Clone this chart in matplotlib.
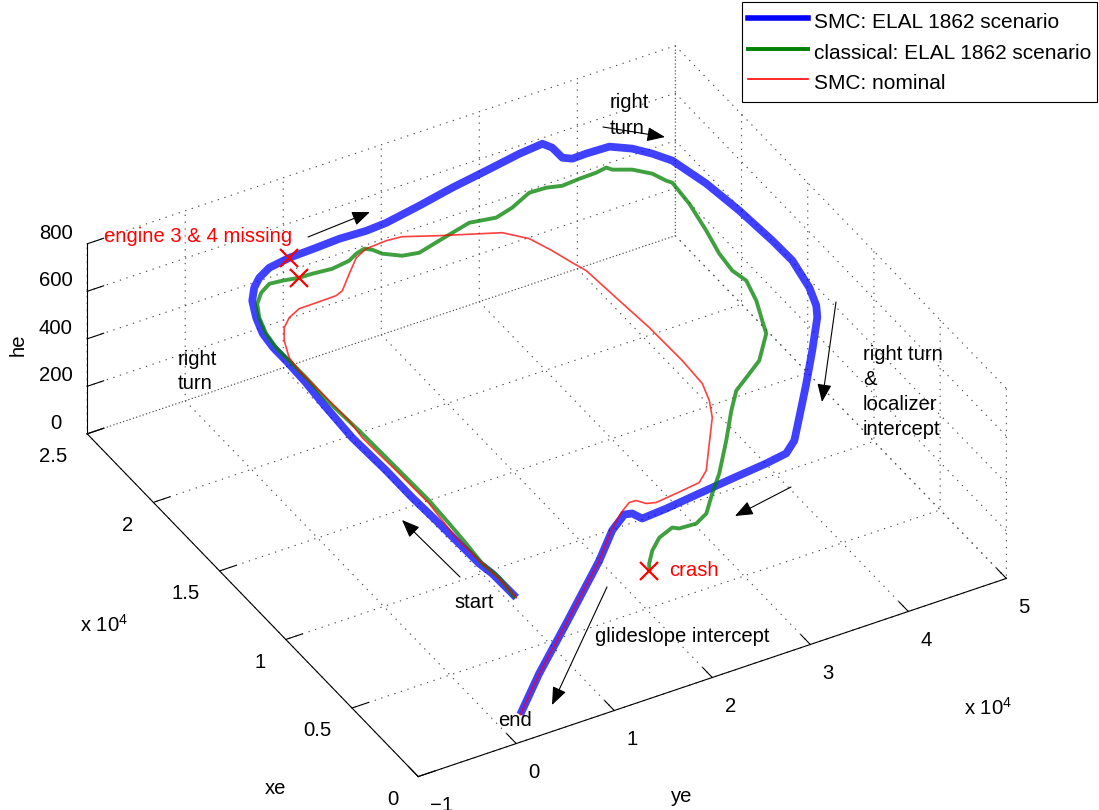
import matplotlib
matplotlib.use("Agg")
import matplotlib.pyplot as plt
from matplotlib.lines import Line2D
from matplotlib.patches import FancyArrowPatch

W, H = 1099, 810

# ================================
# DATA (metres)
# ================================

# SMC: ELAL 1862 scenario
BLUE_YE = [260, 190, 110, -200, -330, -500, -740, -840, -1190, -1100, -1000, -1050, -1150, -1000, -420,
           450, 1500, 2570, 4030, 6280, 9020, 11370, 13940, 15960, 19540, 23190, 26860, 30450, 32830,
           33300, 33330, 33990, 35380, 37590, 39170, 40290, 41310, 42310, 42930, 43370, 43530, 42950,
           42240, 41520, 38940, 36290, 33490, 31750, 30430, 28270, 24540, 20880, 17230, 14630, 14240,
           13550, 12480, 10920, 7420, 4560, 2460]
BLUE_XE = [190, 1190, 1890, 2640, 4060, 5670, 7310, 9200, 11510, 13710, 15240, 16600, 17510, 18400,
           19330, 20270, 20900, 21310, 21640, 21790, 21780, 21780, 21640, 21630, 21790, 22000, 22150,
           22310, 22330, 21930, 21190, 20930, 20910, 20800, 20240, 19550, 18800, 16970, 14940, 12760,
           11370, 9660, 8610, 8000, 6470, 4960, 3420, 2500, 2140, 2050, 1850, 1640, 1420, 1320, 1780,
           1870, 1990, 1810, 1720, 1640, 1520]
BLUE_HE = [600, 602, 605, 608, 612, 618, 624, 630, 640, 650, 660, 668, 673, 678, 683, 688, 692, 695,
           698, 700, 705, 710, 716, 722, 735, 748, 760, 772, 780, 780, 780, 782, 785, 790, 792, 795,
           795, 790, 785, 778, 772, 765, 760, 755, 740, 725, 710, 690, 675, 668, 668, 668, 668, 668,
           668, 668, 609, 514, 303, 137, 0]

# classical: ELAL 1862 scenario
GREEN_YE = [180, 350, 30, 210, 300, 380, 240, 100, -130, -530, -620, -790, -910, -730, -170, 650,
            1700, 2920, 4090, 5570, 6860, 8780, 10680, 11710, 12640, 13180, 13710, 15130, 16670,
            19060, 22660, 25110, 27060, 29450, 31140, 32520, 34350, 36100, 37210, 37560, 39150,
            40480, 41120, 41470, 41450, 41020, 40570, 40490, 41000, 40550, 39790, 39310, 37110,
            35120, 33650, 32130, 30220, 28290, 27140, 26080, 25270, 24470, 24180, 23500, 23050,
            22910, 23100]
GREEN_XE = [290, 1540, 2590, 3930, 5280, 6850, 8260, 9660, 11770, 13730, 15400, 16560, 17450, 18340,
            19280, 20040, 20520, 20810, 20700, 20510, 20490, 20390, 20520, 20750, 20840, 20630,
            20270, 19810, 19660, 19930, 20320, 20100, 20340, 20820, 20780, 20590, 20660, 20680,
            20750, 20550, 20220, 19690, 19110, 18920, 17620, 16020, 14700, 13660, 12980, 11890,
            10880, 10220, 9120, 8620, 8290, 7540, 6510, 5610, 5290, 4950, 5110, 5810, 6120, 6590,
            6790, 6920, 7050]
GREEN_HE = [600, 605, 608, 612, 617, 622, 627, 632, 640, 650, 660, 667, 672, 677, 682, 686, 690, 694,
            697, 700, 700, 700, 700, 702, 705, 705, 702, 700, 700, 702, 705, 705, 706, 708, 708, 708,
            708, 708, 710, 708, 705, 700, 695, 693, 680, 665, 650, 640, 630, 615, 600, 590, 570, 555,
            540, 520, 480, 420, 370, 320, 280, 230, 220, 160, 100, 40, 0]

# SMC: nominal
RED_YE = [260, 270, 20, -140, 190, -40, -380, -210, -340, -450, -570, -410, 430, 1400, 2530, 3970,
          5720, 7780, 8530, 9710, 10740, 11820, 13780, 15220, 18090, 23130, 24770, 25640, 26290,
          26780, 27180, 27660, 28010, 28110, 27560, 26700, 24800, 22830, 21520, 19730, 16900,
          16060, 15510, 14820, 13530, 12400, 10920, 7420, 4560, 2460]
RED_XE = [190, 1490, 2810, 4580, 6710, 9040, 11350, 12460, 13650, 14770, 15970, 16840, 17840, 18560,
          19020, 19330, 19340, 19360, 19450, 19800, 20030, 20080, 20020, 19880, 19210, 18180, 17350,
          16260, 15230, 14530, 12340, 10430, 8200, 6760, 5820, 4960, 3780, 2550, 2110, 2060, 1940,
          2070, 2420, 2440, 2090, 2000, 1810, 1720, 1630, 1520]
RED_HE = [600, 605, 608, 613, 620, 628, 638, 643, 648, 652, 656, 658, 660, 660, 660, 660, 660, 660,
          665, 700, 740, 760, 770, 775, 778, 780, 780, 780, 780, 780, 775, 765, 750, 735, 725, 715,
          700, 685, 678, 672, 668, 668, 668, 668, 664, 609, 514, 303, 137, 0]

FAIL_BLUE = 19      # engine 3 & 4 lost (SMC)
FAIL_GREEN = 19     # engine 3 & 4 lost (classical)

YE_TICKS = [-10000, 0, 10000, 20000, 30000, 40000, 50000]
YE_LABELS = ["\u22121", "0", "1", "2", "3", "4", "5"]
XE_TICKS = [0, 5000, 10000, 15000, 20000, 25000]
XE_LABELS = ["0", "0.5", "1", "1.5", "2", "2.5"]
HE_TICKS = [0, 200, 400, 600, 800]

FS = 14.6


def fx(x):
    return x / W


def fy(y):
    return 1 - y / H


plt.rcParams.update({
    "font.family": ["Liberation Sans", "DejaVu Sans"],
    "font.size": FS,
    "mathtext.fontset": "custom",
    "mathtext.rm": "Liberation Sans",
    "axes3d.automargin": False,
})

fig = plt.figure(figsize=(W / 100, H / 100), dpi=100)

# square 3d axes, placed so the box lands where the original one is
S = 900
cx, cy = 534.6 / W, 1 - 423.3 / H
ax = fig.add_axes([cx - S / W / 2, cy - S / H / 2, S / W, S / H],
                  projection="3d", proj_type="ortho", computed_zorder=False)
ax.set_facecolor("none")
ax.view_init(elev=36.2, azim=-119.7)
ax.set_box_aspect((677, 668, 235.4), zoom=1.057)

# matplotlib x = ye, y = xe (keeps the original's handedness)
ax.plot(BLUE_YE, BLUE_XE, BLUE_HE, color="blue", lw=5.6, alpha=0.75, solid_capstyle="butt")
ax.plot(GREEN_YE, GREEN_XE, GREEN_HE, color="green", lw=2.8, alpha=0.75)
ax.plot(RED_YE, RED_XE, RED_HE, color="red", lw=1.2, alpha=0.75)

mk = dict(color="red", marker="x", markersize=13, mew=1.6, linestyle="None")
ax.plot([BLUE_YE[FAIL_BLUE]], [BLUE_XE[FAIL_BLUE]], [BLUE_HE[FAIL_BLUE]], **mk)
ax.plot([GREEN_YE[FAIL_GREEN]], [GREEN_XE[FAIL_GREEN]], [GREEN_HE[FAIL_GREEN]], **mk)
ax.plot([GREEN_YE[-1]], [GREEN_XE[-1]], [GREEN_HE[-1]], **mk)

ax.set_xlim(-1e4, 5e4)
ax.set_ylim(0, 2.5e4)
ax.set_zlim(0, 800)
ax.set_xticks(YE_TICKS, YE_LABELS, ha="left")
ax.set_yticks(XE_TICKS, XE_LABELS, ha="right")
ax.set_zticks(HE_TICKS, [str(v) for v in HE_TICKS], va="baseline")

for axis in (ax.xaxis, ax.yaxis, ax.zaxis):
    axis.set_pane_color((1, 1, 1, 0))
    axis.line.set_color("k")
    axis.line.set_linewidth(0.8)
    axis._axinfo["grid"].update({"color": "0.3", "linewidth": 0.8, "linestyle": (0, (1.2, 5))})
    axis._axinfo["tick"].update({"inward_factor": 0.0, "outward_factor": 0.35})
ax.tick_params(labelsize=FS, colors="k")
ax.tick_params(axis="x", pad=4.5)

# axis labels and exponents, as in the original
fig.text(fx(18), fy(345), "he", rotation=90, ha="center", va="center")
fig.text(fx(275), fy(788), "xe", ha="center", va="center")
fig.text(fx(682), fy(797), "ye", ha="center", va="center")
fig.text(fx(104), fy(625), r"x 10$^{4}$", ha="center", va="center")
fig.text(fx(988), fy(708), r"x 10$^{4}$", ha="center", va="center")

# ================================
# ANNOTATIONS
# ================================

fig.text(fx(104), fy(236), "engine 3 & 4 missing", color="red", ha="left", va="center")
fig.text(fx(669), fy(570), "crash", color="red", ha="left", va="center")
fig.text(fx(610), fy(115.5), "right\nturn", ha="left", va="center", linespacing=1.45)
fig.text(fx(178), fy(371.5), "right\nturn", ha="left", va="center", linespacing=1.38)
fig.text(fx(863), fy(392), "right turn\n&\nlocalizer\nintercept", ha="left", va="center", linespacing=1.4)
fig.text(fx(454), fy(602), "start", ha="left", va="center")
fig.text(fx(498), fy(720), "end", ha="left", va="center")
fig.text(fx(595), fy(636), "glideslope intercept", ha="left", va="center")

arrows = [
    ((308, 237), (370, 212)),
    ((603, 127), (665, 137)),
    ((836, 302), (822, 402)),
    ((791, 487), (735, 516)),
    ((607, 587), (552, 705)),
    ((460, 577), (402, 520)),
]
for (x0, y0), (x1, y1) in arrows:
    fig.add_artist(FancyArrowPatch(
        (fx(x0), fy(y0)), (fx(x1), fy(y1)), transform=fig.transFigure,
        arrowstyle="-|>,head_length=0.55,head_width=0.22", mutation_scale=20,
        lw=0.8, color="k", shrinkA=0, shrinkB=0,
    ))

handles = [
    Line2D([0], [0], color="blue", lw=4.0),
    Line2D([0], [0], color="green", lw=2.8),
    Line2D([0], [0], color="red", lw=1.2),
]
labels = ["SMC: ELAL 1862 scenario", "classical: ELAL 1862 scenario", "SMC: nominal"]
leg = fig.legend(handles, labels, loc="upper right", bbox_to_anchor=(fx(1097), fy(2)),
                 frameon=True, fancybox=False, edgecolor="k", framealpha=1,
                 borderaxespad=0, handlelength=2.9, handletextpad=0.25, handleheight=1.56,
                 labelspacing=0.2, borderpad=0.3, fontsize=15.0)
leg.get_frame().set_linewidth(0.8)

fig.savefig("out.png", dpi=100)
